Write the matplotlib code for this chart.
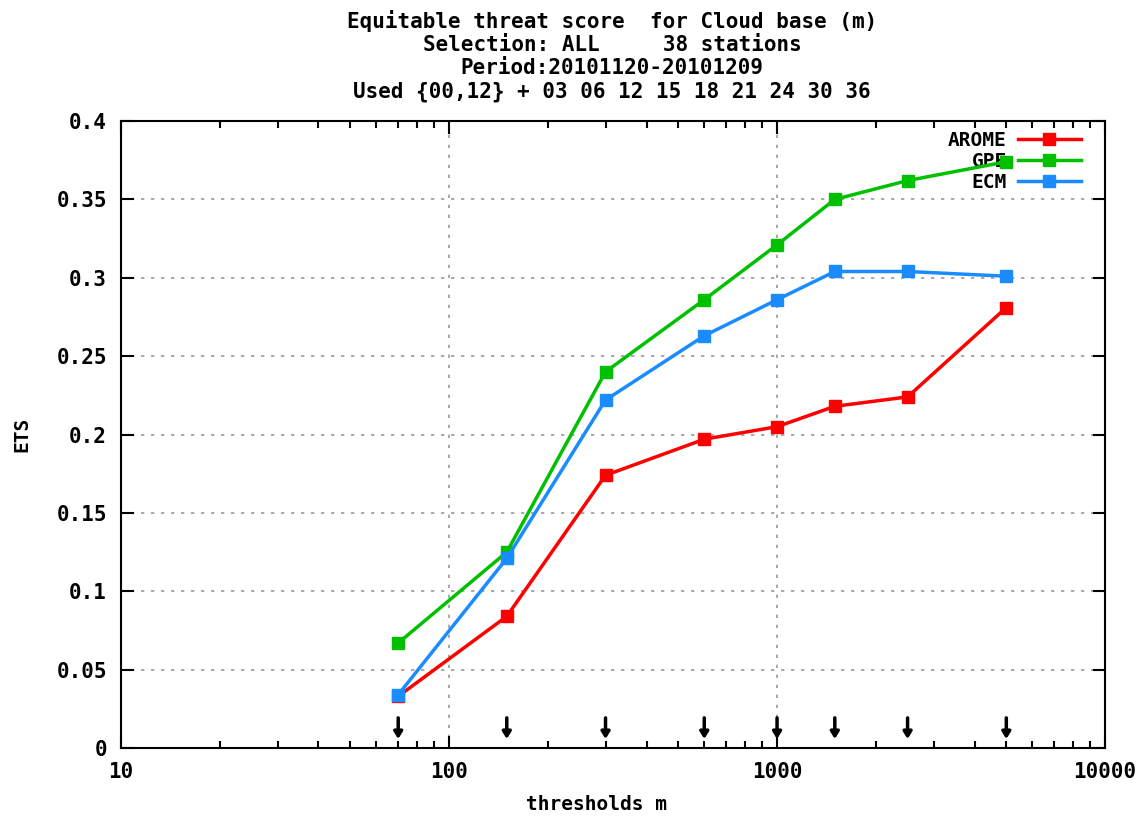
import numpy as np
import matplotlib.pyplot as plt
from matplotlib.ticker import FixedLocator, LogLocator, NullFormatter

thresholds = [70, 150, 300, 600, 1000, 1500, 2500, 5000]
arome = [0.033, 0.084, 0.174, 0.197, 0.205, 0.218, 0.224, 0.281]
gpe = [0.067, 0.125, 0.240, 0.286, 0.321, 0.350, 0.362, 0.374]
ecm = [0.034, 0.121, 0.222, 0.263, 0.286, 0.304, 0.304, 0.301]
series = [("AROME", arome, "#ff0000"), ("GPE", gpe, "#00c000"), ("ECM", ecm, "#1a8cff")]

title = ("Equitable threat score  for Cloud base (m)\n"
         "Selection: ALL     38 stations\n"
         "Period:20101120-20101209\n"
         "Used {00,12} + 03 06 12 15 18 21 24 30 36")

plt.rcParams['font.family'] = ['DejaVu Sans Mono']
plt.rcParams['font.weight'] = 'bold'

fig = plt.figure(figsize=(11.48, 8.16), dpi=100)
ax = fig.add_axes([0.1054, 0.0833, 0.8572, 0.7684])

for name, vals, col in series:
    ax.plot(thresholds, vals, color=col, lw=2.5, marker="s", ms=8,
            label=name, zorder=3)

# arrows marking the thresholds
for t in thresholds:
    ax.annotate("", xy=(t, 0.004), xytext=(t, 0.021),
                arrowprops=dict(arrowstyle="-|>,head_width=0.25,head_length=0.4",
                                color="black", lw=2.5), zorder=4)

ax.set_xscale("log")
ax.set_xlim(10, 10000)
ax.set_ylim(0, 0.4)
ax.xaxis.set_major_locator(FixedLocator([10, 100, 1000, 10000]))
ax.xaxis.set_minor_locator(LogLocator(base=10, subs=np.arange(2, 10)))
ax.xaxis.set_minor_formatter(NullFormatter())
ax.set_xticklabels(["10", "100", "1000", "10000"])
ax.set_yticks(np.arange(0, 0.41, 0.05))
ax.set_yticklabels(["0", "0.05", "0.1", "0.15", "0.2", "0.25", "0.3", "0.35", "0.4"])
ax.tick_params(which="both", direction="in", top=True, right=True, labelsize=15,
               width=1.5)
ax.tick_params(which="major", length=9, pad=10)
ax.tick_params(which="minor", length=5)
ax.grid(True, which="major", ls=(0, (2, 4)), color="#999999", lw=1.2)
for s in ax.spines.values():
    s.set_linewidth(1.5)

ax.set_xlabel("thresholds m", fontsize=14, fontweight="bold", labelpad=9)
ax.xaxis.set_label_coords(0.483, -0.075)
ax.set_ylabel("ETS", fontsize=14, fontweight="bold", labelpad=18)
fig.text(0.533, 0.988, title, ha="center", va="top", fontsize=15,
         linespacing=1.2)

leg = ax.legend(loc="upper right", bbox_to_anchor=(0.985, 1.0), frameon=False,
                markerfirst=False, fontsize=14, handlelength=3.2,
                labelspacing=0.1, borderaxespad=0.1, handletextpad=0.6)
leg.set_zorder(1)

fig.savefig("out.png", dpi=100)
